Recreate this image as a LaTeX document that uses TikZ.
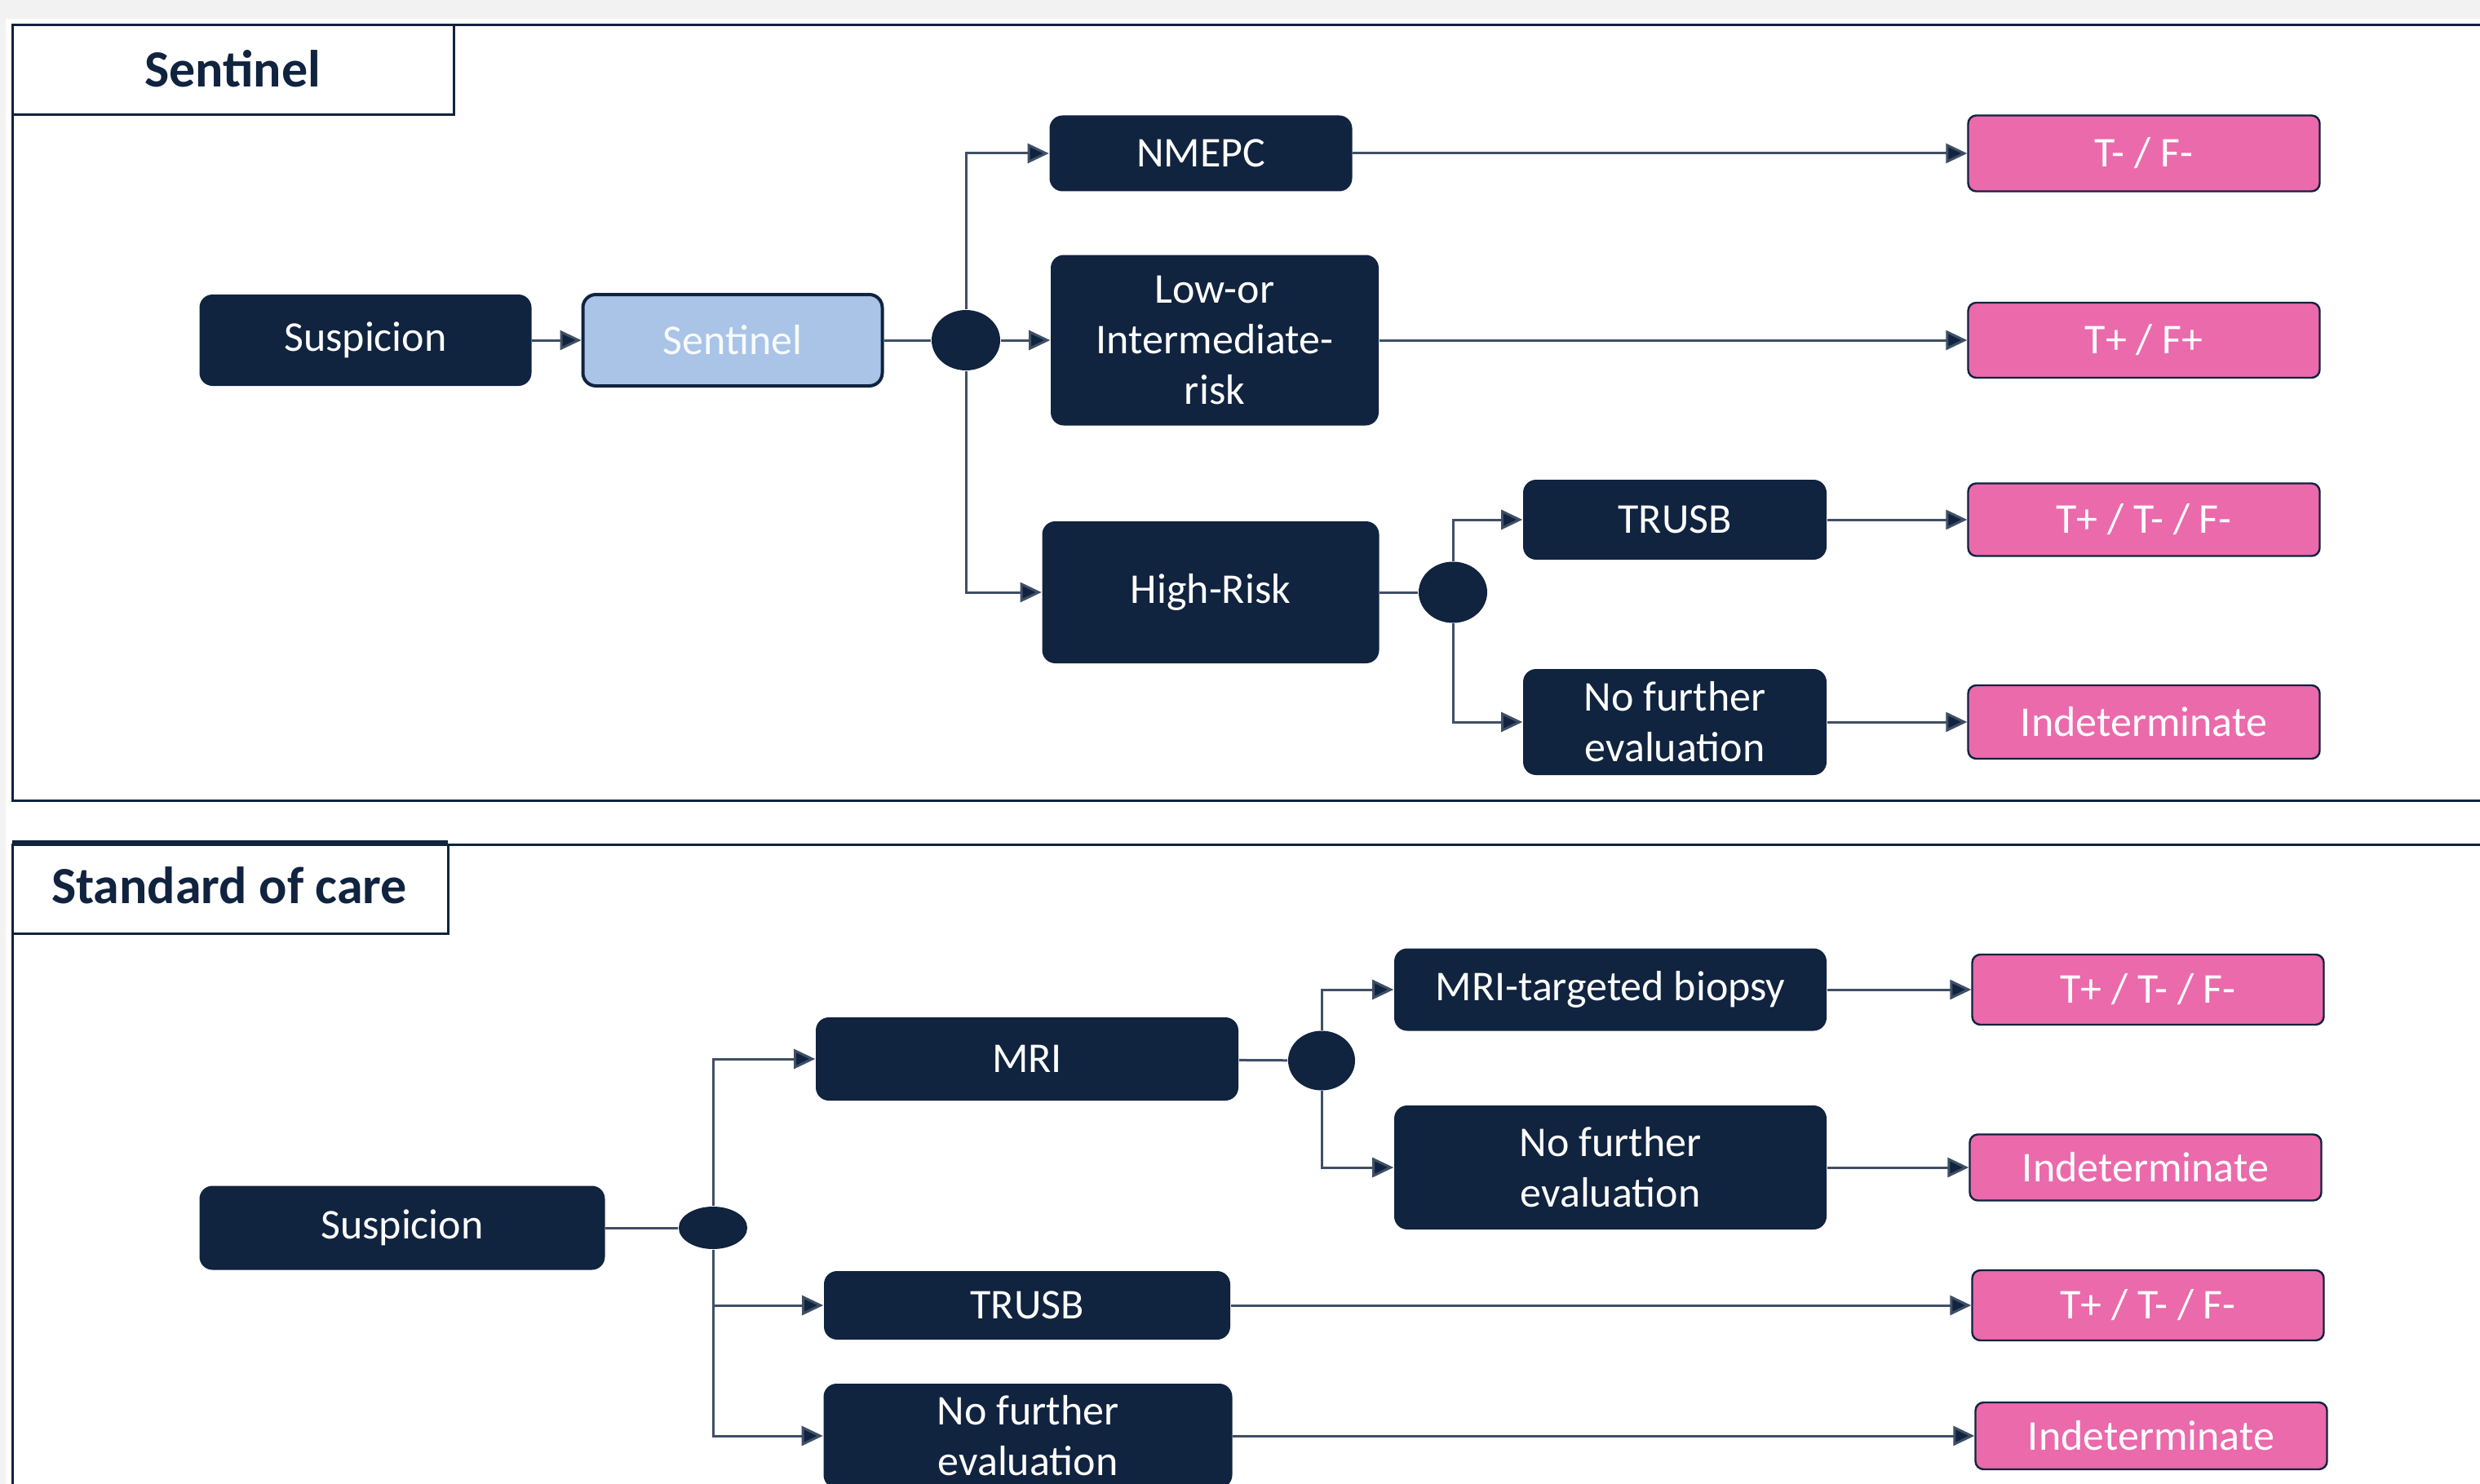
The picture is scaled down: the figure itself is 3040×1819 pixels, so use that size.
\documentclass[tikz,border=0pt]{standalone}
\usepackage{fontspec}
\setmainfont{Carlito}
\usetikzlibrary{arrows.meta,shapes.geometric}
\definecolor{navy}{HTML}{10233F}
\definecolor{pinkbox}{HTML}{EA6AAB}
\definecolor{lightblue}{HTML}{A9C4E6}
\definecolor{conncol}{HTML}{3F4F66}
\definecolor{pagegray}{HTML}{F2F2F2}
\begin{document}
\begin{tikzpicture}[x=0.25pt,y=-0.25pt,
  darkbox/.style={fill=navy, text=white, rounded corners=4pt, align=center,
    font=\fontsize{13}{15.5}\selectfont, inner sep=0pt},
  bluebox/.style={fill=lightblue, draw=navy, line width=1pt, text=white!92!lightblue, rounded corners=4pt,
    align=center, font=\fontsize{13}{15.5}\selectfont, inner sep=0pt},
  pinkbx/.style={fill=pinkbox, draw=navy, line width=0.6pt, text=white, rounded corners=2.5pt,
    font=\fontsize{13}{15.5}\selectfont, inner sep=0pt, minimum width=107.75pt},
  junc/.style={ellipse, fill=navy, inner sep=0pt},
  arr/.style={draw=conncol, line width=0.75pt, -{Triangle[length=6.5pt,width=6pt,fill=navy]}},
  lnk/.style={draw=conncol, line width=0.75pt},
  titlebox/.style={draw=navy, line width=0.75pt, fill=white, font=\fontsize{16}{19}\selectfont\bfseries, text=navy}
]
\useasboundingbox (0,0) rectangle (3040,1819);
\clip (0,0) rectangle (3040,1819);
\fill[pagegray] (0,0) rectangle (3040,1819);
\fill[white] (7,23) rectangle (3040,1819);

% ---------- Sentinel panel ----------
\draw[navy, line width=0.75pt] (3060,31) -- (15,31) -- (15,981) -- (3060,981);
\draw[titlebox] (15,31) rectangle (556,141);
\node[font=\fontsize{16}{19}\selectfont\bfseries, text=navy] (t1) at (285,84) {Sentinel};

\node[darkbox, minimum width=101.75pt, minimum height=28pt] (ssusp) at (448,417) {Suspicion};
\node[bluebox, minimum width=91.75pt, minimum height=28pt] (ssent) at (898,417) {Sentinel};
\node[junc, minimum width=21pt, minimum height=18.5pt] (j1) at (1184,417) {};
\node[darkbox, minimum width=92.75pt, minimum height=23.25pt] (nmepc) at (1472,188) {NMEPC};
\node[darkbox, minimum width=100.5pt, minimum height=52.25pt] (low) at (1489,417) {Low-or\\Intermediate-\\risk};
\node[darkbox, minimum width=103.25pt, minimum height=43.5pt] (high) at (1484,726) {High-Risk};
\node[junc, minimum width=21pt, minimum height=18.75pt] (j2) at (1781,726) {};
\node[darkbox, minimum width=93pt, minimum height=24.5pt] (trusba) at (2053,637) {TRUSB};
\node[darkbox, minimum width=93pt, minimum height=32.5pt] (nfea) at (2053,885) {No further\\evaluation};
\node[pinkbx, minimum height=23.25pt] (p1) at (2628,188) {T- / F-};
\node[pinkbx, minimum height=23pt] (p2) at (2628,417) {T+ / F+};
\node[pinkbx, minimum height=22.25pt] (p3) at (2628,637) {T+ / T- / F-};
\node[pinkbx, minimum height=22.5pt] (p4) at (2628,885) {Indeterminate};

\draw[arr] (ssusp) -- (ssent);
\draw[lnk] (ssent) -- (j1);
\draw[arr] (j1.north) |- (nmepc.west);
\draw[arr] (j1) -- (low);
\draw[arr] (j1.south) |- (high.west);
\draw[lnk] (high) -- (j2);
\draw[arr] (j2.north) |- (trusba.west);
\draw[arr] (j2.south) |- (nfea.west);
\draw[arr] (nmepc) -- (p1);
\draw[arr] (low) -- (p2);
\draw[arr] (trusba) -- (p3);
\draw[arr] (nfea) -- (p4);

% ---------- Standard of care panel ----------
\draw[navy, line width=0.75pt] (3060,1035) -- (15,1035) -- (15,1840);
\draw[titlebox] (15,1035) rectangle (549,1144);
\draw[navy, line width=1.5pt] (15,1033) -- (549,1033);
\node[font=\fontsize{16}{19}\selectfont\bfseries, text=navy] (t2) at (281,1085) {Standard of care};

\node[darkbox, minimum width=124.25pt, minimum height=25.75pt] (csusp) at (493,1505) {Suspicion};
\node[junc, minimum width=21pt, minimum height=13pt] (j3) at (874,1505) {};
\node[darkbox, minimum width=129.5pt, minimum height=25.5pt] (mri) at (1259,1298) {MRI};
\node[darkbox, minimum width=124.5pt, minimum height=21pt] (trusbb) at (1259,1600) {TRUSB};
\node[darkbox, minimum width=125.25pt, minimum height=32pt] (nfeb) at (1260,1760) {No further\\evaluation};
\node[junc, minimum width=20.5pt, minimum height=18.25pt] (j4) at (1620,1300) {};
\node[darkbox, minimum width=132.5pt, minimum height=25.25pt] (mtb) at (1974,1213) {MRI-targeted biopsy};
\node[darkbox, minimum width=132.5pt, minimum height=38pt] (nfec) at (1974,1431) {No further\\evaluation};
\node[pinkbx, minimum height=21.5pt] (q1) at (2633,1213) {T+ / T- / F-};
\node[pinkbx, minimum height=20.25pt] (q2) at (2630,1431) {Indeterminate};
\node[pinkbx, minimum height=21.5pt] (q3) at (2633,1600) {T+ / T- / F-};
\node[pinkbx, minimum height=20.5pt] (q4) at (2637,1760) {Indeterminate};

\draw[lnk] (csusp) -- (j3);
\draw[arr] (j3.north) |- (mri.west);
\draw[arr] (j3.south) |- (trusbb.west);
\draw[arr] (j3.south) |- (nfeb.west);
\draw[lnk] (mri) -- (j4);
\draw[arr] (j4.north) |- (mtb.west);
\draw[arr] (j4.south) |- (nfec.west);
\draw[arr] (mtb) -- (q1);
\draw[arr] (nfec) -- (q2);
\draw[arr] (trusbb) -- (q3);
\draw[arr] (nfeb) -- (q4);
\end{tikzpicture}
\end{document}
